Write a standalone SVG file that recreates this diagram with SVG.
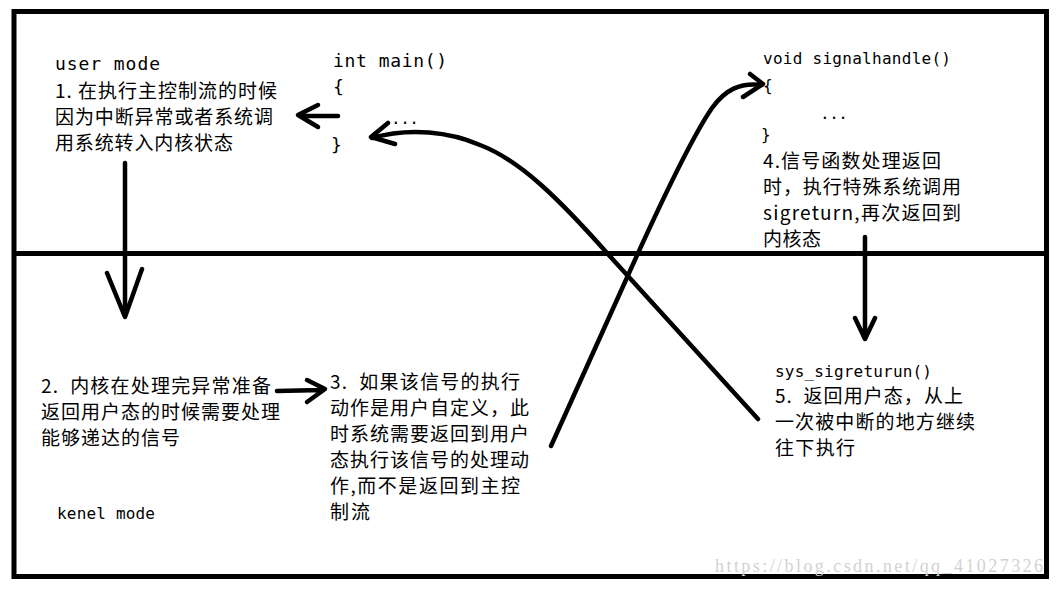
<svg xmlns="http://www.w3.org/2000/svg" width="1056" height="589" viewBox="0 0 1056 589">
<style>
.cn{font-family:"Noto Sans CJK SC","Noto Sans",sans-serif;font-size:19px;fill:#000;white-space:pre}
.mo{font-family:"DejaVu Sans Mono","Liberation Mono",monospace;fill:#000}
.m18{font-size:18px}
.m16{font-size:16px}
.frame{fill:none;stroke:#000;stroke-width:5}
.ln{fill:none;stroke:#000;stroke-width:4.5;stroke-linecap:round;stroke-linejoin:round}
.wm{font-family:"Liberation Serif",serif;font-size:18px;fill:#d2d2d2}
</style>
<rect width="1056" height="589" fill="#fff"/>
<g id="frame">
<rect class="frame" x="14" y="11.5" width="1032.5" height="565"/>
<line class="frame" x1="14" y1="253.5" x2="1046.5" y2="253.5"/>
</g>
<g id="node-user">
<text class="mo m18" x="55" y="70" textLength="105" lengthAdjust="spacing">user mode</text>
<text class="cn" x="55" y="98" textLength="222" lengthAdjust="spacing" xml:space="preserve">1. 在执行主控制流的时候</text>
<text class="cn" x="55" y="124" textLength="218" lengthAdjust="spacing">因为中断异常或者系统调</text>
<text class="cn" x="55" y="150" textLength="178" lengthAdjust="spacing">用系统转入内核状态</text>
</g>
<g id="node-main">
<text class="mo m18" x="333" y="67" textLength="114" lengthAdjust="spacing">int main()</text>
<text class="mo m18" x="333" y="93">{</text>
<text class="mo m16" x="391" y="124" textLength="28" lengthAdjust="spacing">...</text>
<text class="mo m18" x="331" y="151">}</text>
</g>
<g id="node-handler">
<text class="mo m16" x="763" y="64" textLength="188" lengthAdjust="spacing">void signalhandle()</text>
<text class="mo m16" x="763" y="91">{</text>
<text class="mo m16" x="820" y="119" textLength="28" lengthAdjust="spacing">...</text>
<text class="mo m16" x="761" y="140">}</text>
<text class="cn" x="763" y="168" textLength="178" lengthAdjust="spacing">4.信号函数处理返回</text>
<text class="cn" x="763" y="194" textLength="198" lengthAdjust="spacing">时，执行特殊系统调用</text>
<text class="cn" x="763" y="220" textLength="198" lengthAdjust="spacing">sigreturn,再次返回到</text>
<text class="cn" x="763" y="246" textLength="58" lengthAdjust="spacing">内核态</text>
</g>
<g id="node-kernel">
<text class="cn" x="41" y="393" textLength="230" lengthAdjust="spacing" xml:space="preserve">2.  内核在处理完异常准备</text>
<text class="cn" x="41" y="419" textLength="239" lengthAdjust="spacing">返回用户态的时候需要处理</text>
<text class="cn" x="41" y="445" textLength="139" lengthAdjust="spacing">能够递达的信号</text>
<text class="mo m16" x="57" y="519" textLength="98" lengthAdjust="spacing">kenel mode</text>
</g>
<g id="node-step3">
<text class="cn" x="330" y="389" textLength="190" lengthAdjust="spacing" xml:space="preserve">3.  如果该信号的执行</text>
<text class="cn" x="330" y="415" textLength="199" lengthAdjust="spacing">动作是用户自定义，此</text>
<text class="cn" x="330" y="441" textLength="199" lengthAdjust="spacing">时系统需要返回到用户</text>
<text class="cn" x="330" y="467" textLength="199" lengthAdjust="spacing">态执行该信号的处理动</text>
<text class="cn" x="330" y="493" textLength="190" lengthAdjust="spacing">作,而不是返回到主控</text>
<text class="cn" x="330" y="519" textLength="40" lengthAdjust="spacing">制流</text>
</g>
<g id="node-sigreturn">
<text class="mo m16" x="775" y="377" textLength="157" lengthAdjust="spacing">sys_sigreturun()</text>
<text class="cn" x="775" y="403" textLength="188" lengthAdjust="spacing" xml:space="preserve">5.  返回用户态，从上</text>
<text class="cn" x="775" y="429" textLength="200" lengthAdjust="spacing">一次被中断的地方继续</text>
<text class="cn" x="775" y="455" textLength="80" lengthAdjust="spacing">往下执行</text>
</g>
<g id="connectors">
<path class="ln" d="M125,163 L125,316 M107,273 L125,317 L142,269"/>
<path class="ln" d="M865,237 L865,338 M855,318 L865,339 L875,318"/>
<path class="ln" d="M338,116 L300,116 M318,105 L298,115 L318,127"/>
<path class="ln" d="M277,391 L323,390 M307,380 L325,389 L307,402"/>
<path class="ln" d="M758,419 L607,253 C560,200 520,160 480,145 C450,132 410,127 372,138 M388,123 L371,137 L395,144"/>
<path class="ln" d="M551,446 L625,282 C655,215 690,140 712,108 C725,90 740,82 762,85 M750,74 L763,84 L743,97"/>
</g>
<text class="wm" x="715" y="572" textLength="328" lengthAdjust="spacing">https://blog.csdn.net/qq_41027326</text>
</svg>
